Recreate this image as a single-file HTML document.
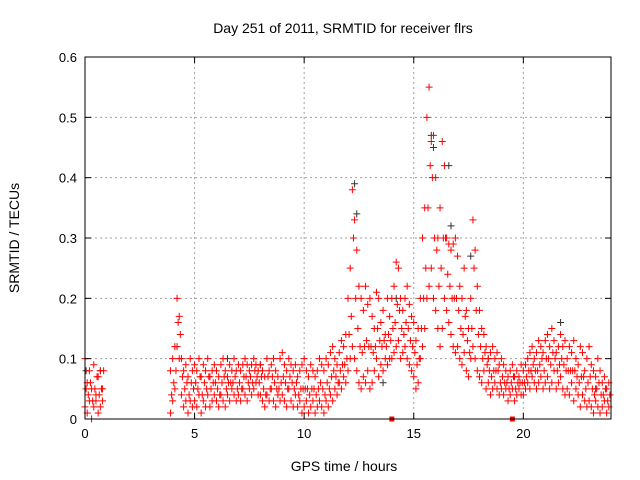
<!DOCTYPE html>
<html><head><meta charset="utf-8"><style>
html,body{margin:0;padding:0;background:#fff;}
svg{display:block;font-family:"Liberation Sans",sans-serif;}
</style></head><body>
<svg id="chart" width="640" height="480" viewBox="0 0 640 480" xmlns="http://www.w3.org/2000/svg">
<rect width="640" height="480" fill="#fff"/>
<text x="343" y="33" font-size="14" text-anchor="middle">Day 251 of 2011, SRMTID for receiver flrs</text>
<text x="344" y="471" font-size="14" text-anchor="middle">GPS time / hours</text>
<text x="19" y="238" font-size="14" text-anchor="middle" transform="rotate(-90 19 238)">SRMTID / TECUs</text>
<g id="grid"></g><g id="marks"></g><g id="axes"></g>
</svg>
<script>
const xTicks=[0,5,10,15,20];
const yTicks=[0,0.1,0.2,0.3,0.4,0.5,0.6];
const yTickLabels=["0","0.1","0.2","0.3","0.4","0.5","0.6"];
const hours=[];
for(let i=0;i<240;i++)hours.push(i/10);
const N=null;
const redHigh=[0.1,0.06,0.08,0.05,0.09,0.04,0.07,0.08,0.05,
N,N,N,N,N,N,N,N,N,N,N,N,N,N,N,N,N,N,N,N,N,N,N,N,N,N,N,N,N,N,
0.08,0.1,0.12,0.2,0.17,0.1,0.08,0.09,0.07,0.1,0.08,
0.09,0.08,0.1,0.07,0.09,0.08,0.1,0.07,0.08,0.09,
0.08,0.07,0.09,0.1,0.08,0.07,0.09,0.08,0.1,0.08,
0.09,0.08,0.09,0.1,0.09,0.08,0.09,0.1,0.09,0.08,
0.09,0.08,0.07,0.1,0.08,0.09,0.1,0.08,0.07,0.1,
0.11,0.09,0.08,0.1,0.09,0.08,0.09,0.07,0.08,0.09,
0.1,0.08,0.07,0.09,0.08,0.07,0.08,0.1,0.09,0.08,
0.1,0.09,0.11,0.12,0.1,0.09,0.11,0.13,0.12,0.14,
0.2,0.25,0.38,0.33,0.28,0.22,0.2,0.18,0.22,0.19,
0.2,0.17,0.15,0.21,0.2,0.16,0.18,0.14,0.2,0.17,
0.2,0.22,0.26,0.25,0.2,0.18,0.2,0.22,0.19,0.17,
0.16,0.13,0.15,0.2,0.3,0.35,0.5,0.55,0.46,0.47,
0.4,0.3,0.35,0.46,0.42,0.3,0.29,0.28,0.29,0.3,
0.27,0.22,0.2,0.25,0.18,0.15,0.2,0.33,0.28,0.22,
0.18,0.15,0.14,0.12,0.1,0.11,0.12,0.1,0.11,0.09,
0.1,0.09,0.08,0.07,0.08,0.09,0.07,0.08,0.07,0.09,
0.08,0.09,0.1,0.11,0.12,0.1,0.11,0.13,0.12,0.11,
0.13,0.14,0.12,0.15,0.13,0.11,0.12,0.14,0.12,0.13,
0.1,0.12,0.11,0.13,0.1,0.09,0.12,0.11,0.08,0.1,
0.12,0.09,0.08,0.07,0.1,0.08,0.06,0.07,0.05,0.06];
const redLow=[0.02,0.01,0.03,0.0,0.02,0.03,0.01,0.02,0.03,
N,N,N,N,N,N,N,N,N,N,N,N,N,N,N,N,N,N,N,N,N,N,N,N,N,N,N,N,N,N,
0.01,0.03,0.05,0.12,0.1,0.04,0.02,0.03,0.01,0.03,0.02,
0.03,0.02,0.04,0.01,0.03,0.02,0.04,0.02,0.03,0.04,
0.03,0.02,0.04,0.03,0.02,0.04,0.03,0.05,0.04,0.03,
0.04,0.03,0.05,0.04,0.03,0.05,0.04,0.05,0.06,0.04,
0.04,0.03,0.02,0.04,0.03,0.05,0.03,0.02,0.04,0.03,
0.04,0.03,0.02,0.05,0.03,0.02,0.04,0.02,0.03,0.01,
0.02,0.03,0.01,0.02,0.03,0.01,0.02,0.03,0.02,0.01,
0.03,0.02,0.04,0.03,0.05,0.04,0.06,0.05,0.07,0.06,
0.08,0.1,0.12,0.1,0.08,0.06,0.05,0.07,0.06,0.08,
0.05,0.06,0.08,0.1,0.07,0.09,0.08,0.1,0.09,0.1,
0.1,0.11,0.12,0.13,0.1,0.11,0.12,0.1,0.09,0.08,
0.07,0.05,0.06,0.1,0.12,0.15,0.2,0.22,0.25,0.2,
0.18,0.15,0.12,0.15,0.2,0.18,0.16,0.14,0.12,0.11,
0.12,0.1,0.09,0.11,0.08,0.07,0.1,0.12,0.1,0.08,
0.07,0.06,0.08,0.05,0.06,0.04,0.05,0.06,0.05,0.04,
0.05,0.04,0.05,0.03,0.04,0.05,0.03,0.04,0.05,0.04,
0.04,0.05,0.06,0.05,0.07,0.06,0.05,0.06,0.07,0.05,
0.06,0.07,0.05,0.06,0.08,0.05,0.06,0.07,0.05,0.04,
0.05,0.04,0.06,0.03,0.05,0.04,0.02,0.04,0.03,0.02,
0.03,0.02,0.01,0.03,0.02,0.01,0.02,0.03,0.01,0.02];
const redMid=[0.05,0.04,0.06,0.03,0.05,0.07,0.04,0.05,0.08,
N,N,N,N,N,N,N,N,N,N,N,N,N,N,N,N,N,N,N,N,N,N,N,N,N,N,N,N,N,N,
0.04,0.06,0.08,0.16,0.14,0.07,0.05,0.06,0.04,0.06,0.05,
0.06,0.05,0.07,0.04,0.06,0.05,0.07,0.05,0.06,0.06,
0.05,0.04,0.06,0.07,0.05,0.06,0.06,0.06,0.07,0.05,
0.06,0.05,0.07,0.07,0.06,0.07,0.06,0.08,0.07,0.06,
0.07,0.05,0.04,0.07,0.05,0.07,0.06,0.05,0.05,0.06,
0.07,0.06,0.05,0.07,0.06,0.05,0.06,0.04,0.05,0.05,
0.05,0.05,0.04,0.05,0.05,0.04,0.05,0.06,0.05,0.04,
0.06,0.05,0.07,0.08,0.07,0.06,0.08,0.09,0.09,0.1,
0.14,0.17,0.3,0.2,0.15,0.12,0.11,0.12,0.13,0.12,
0.12,0.11,0.12,0.15,0.13,0.12,0.13,0.12,0.14,0.13,
0.15,0.16,0.19,0.18,0.15,0.14,0.16,0.15,0.13,0.12,
0.11,0.09,0.1,0.15,0.2,0.25,0.35,0.42,0.4,0.3,
0.28,0.22,0.25,0.3,0.3,0.24,0.22,0.2,0.2,0.2,
0.18,0.15,0.14,0.17,0.13,0.11,0.15,0.25,0.18,0.14,
0.12,0.1,0.11,0.09,0.08,0.07,0.08,0.08,0.08,0.06,
0.07,0.06,0.06,0.05,0.06,0.07,0.05,0.06,0.06,0.06,
0.06,0.07,0.08,0.08,0.09,0.08,0.08,0.09,0.1,0.08,
0.1,0.1,0.09,0.11,0.1,0.08,0.09,0.1,0.09,0.08,
0.08,0.08,0.08,0.08,0.07,0.06,0.07,0.07,0.05,0.06,
0.07,0.05,0.04,0.05,0.06,0.04,0.04,0.05,0.03,0.04];
const blackHours=[0.05,0.7,6.5,12.3,12.4,13.6,15.8,15.9,16.6,16.7,17.6,21.7,23.3,14.2,18.4,8.0];
const blackTecu=[0.08,0.08,0.1,0.39,0.34,0.06,0.47,0.45,0.42,0.32,0.27,0.16,0.05,0.2,0.1,0.09];
const squareHours=[14,19.5];
const squareTecu=[0,0];

const L=85,R=611,T=57,B=419,NS="http://www.w3.org/2000/svg";
const xs=h=>L+(h/24)*(R-L);
const ys=v=>B-(v/0.6)*(B-T);
function mk(tag,attrs,parent){const e=document.createElementNS(NS,tag);for(const k in attrs)e.setAttribute(k,attrs[k]);parent.appendChild(e);return e;}
const grid=document.getElementById('grid'),marks=document.getElementById('marks'),axes=document.getElementById('axes');
xTicks.forEach(t=>{
  const x=xs(t);
  if(t>0){const g=mk('line',{x1:x,y1:T,x2:x,y2:B,stroke:'#a0a0a0','stroke-dasharray':'2,3','stroke-width':1},grid);
  
  }
  mk('line',{x1:x,y1:B,x2:x,y2:B-6,stroke:'#000'},axes);
  mk('line',{x1:x,y1:T,x2:x,y2:T+6,stroke:'#000'},axes);
  const tx=mk('text',{x:x,y:B+19,'font-size':13,'text-anchor':'middle'},axes);tx.textContent=t;
  
  
});
yTicks.forEach((t,i)=>{
  const y=ys(t);
  if(t>0&&t<0.6){const g=mk('line',{x1:L,y1:y,x2:R,y2:y,stroke:'#a0a0a0','stroke-dasharray':'2,3','stroke-width':1},grid);
  
  }
  mk('line',{x1:L,y1:y,x2:L+6,y2:y,stroke:'#000'},axes);
  mk('line',{x1:R,y1:y,x2:R-6,y2:y,stroke:'#000'},axes);
  const tx=mk('text',{x:L-8,y:y+5,'font-size':13,'text-anchor':'end'},axes);tx.textContent=yTickLabels[i];
  
  
});
const frame=mk('rect',{x:L,y:T,width:R-L,height:B-T,fill:'none',stroke:'#000'},axes);


function plus(h,v,color){
  const x=xs(h),y=ys(v),s=3.5;
  const p=mk('path',{d:`M${x-s},${y}H${x+s}M${x},${y-s}V${y+s}`,stroke:color,'stroke-width':1,fill:'none'},marks);
  
  
}
blackHours.forEach((h,i)=>plus(h,blackTecu[i],'#333'));
redLow.forEach((v,i)=>{if(v!==null)plus(hours[i],v,'#ff0000');});
redHigh.forEach((v,i)=>{if(v!==null)plus(hours[i],v,'#ff0000');});
redMid.forEach((v,i)=>{if(v!==null)plus(hours[i]+0.05,v,'#ff0000');});
squareHours.forEach((h,i)=>{
  const q=mk('rect',{x:xs(h)-2.5,y:ys(squareTecu[i])-2.5,width:5,height:5,fill:'#ff0000'},marks);
  
  
});
</script>
</body></html>
